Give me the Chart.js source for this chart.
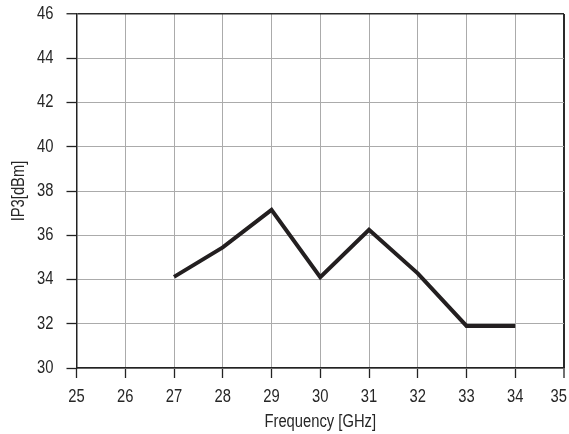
<!DOCTYPE html>
<html><head><meta charset="utf-8">
<script src="https://cdn.jsdelivr.net/npm/chart.js@4/dist/chart.umd.min.js"></script>
<style>html,body{margin:0;padding:0;background:#fff}#wrap{width:569px;height:434px}</style>
</head><body><div id="wrap"><canvas id="c" width="569" height="434"></canvas></div>
<script>
const frequencies = [27, 28, 29, 30, 31, 32, 33, 34];
const ip3 = [34.12, 35.45, 37.15, 34.1, 36.25, 34.28, 31.9, 31.9];
const xTicks = [25, 26, 27, 28, 29, 30, 31, 32, 33, 34, 35];
const yTicks = [30, 32, 34, 36, 38, 40, 42, 44, 46];
const FONT = "'Liberation Sans', Arial, sans-serif";
const TEXT = '#262626';
const NARROW = 0.82;
const pts = frequencies.map((f, i) => ({x: f, y: ip3[i]}));
const narrowText = {
  id: 'narrowText',
  beforeDraw(chart) {
    const ctx = chart.ctx;
    if (ctx.__narrow) return;
    ctx.__narrow = true;
    const orig = ctx.fillText;
    const W = chart.width;
    ctx.fillText = function (t, x, y) {
      const w = this.measureText(t).width * NARROW;
      const m = this.getTransform();
      if (this.textAlign === 'center' && Math.abs(m.b) < 1e-6) {
        const absX = m.a * x + m.e;
        const lim = W - 2 - w / 2;
        if (absX > lim) x += (lim - absX) / m.a;
      }
      this.save(); this.translate(x, y); this.scale(NARROW, 1);
      orig.call(this, t, 0, 0); this.restore();
    };
  }
};
new Chart(document.getElementById('c'), {
  type: 'scatter',
  data: { datasets: [{ data: pts, showLine: true, borderColor: '#231f20', borderWidth: 4, pointRadius: 0, fill: false, tension: 0, borderJoinStyle: 'miter' }] },
  plugins: [narrowText],
  options: {
    responsive: false, animation: false, devicePixelRatio: 1,
    layout: { padding: { top: 14, right: 5, left: 0, bottom: 0 } },
    plugins: { legend: { display: false }, tooltip: { enabled: false } },
    scales: {
      x: {
        type: 'linear', min: xTicks[0], max: xTicks[xTicks.length - 1],
        afterBuildTicks: s => { s.ticks = xTicks.map(v => ({value: v})); },
        ticks: { color: TEXT, font: { family: FONT, size: 18 }, padding: 8, maxRotation: 0, autoSkip: false },
        grid: { color: c => (c.tick && c.tick.value === 35) ? '#2a2a2a' : '#ababab', lineWidth: c => (c.tick && c.tick.value === 35) ? 2 : 1, tickColor: '#222', tickLength: 10, tickWidth: 1.3 },
        border: { color: '#222', width: 1.5 },
        title: { display: true, text: 'Frequency [GHz]', color: TEXT, font: { family: FONT, size: 18 }, padding: { top: 0, bottom: 1 } },
        afterFit: s => { s.height = 66; s.paddingLeft = 0; s.paddingRight = 0; }
      },
      y: {
        min: yTicks[0], max: yTicks[yTicks.length - 1],
        afterBuildTicks: s => { s.ticks = yTicks.map(v => ({value: v})); },
        ticks: { color: TEXT, font: { family: FONT, size: 18 }, padding: 13, autoSkip: false },
        grid: { color: c => (c.tick && c.tick.value === 46) ? '#2a2a2a' : '#ababab', lineWidth: c => (c.tick && c.tick.value === 46) ? 1.5 : 1, tickColor: '#222', tickLength: 10, tickWidth: 1.3 },
        border: { color: '#222', width: 1.5 },
        title: { display: true, text: 'IP3[dBm]', color: TEXT, font: { family: FONT, size: 18 }, padding: { top: 8, bottom: 0 } },
        afterFit: s => { s.width = 76.5; s.paddingTop = 0; s.paddingBottom = 0; }
      }
    }
  }
});
</script></body></html>
